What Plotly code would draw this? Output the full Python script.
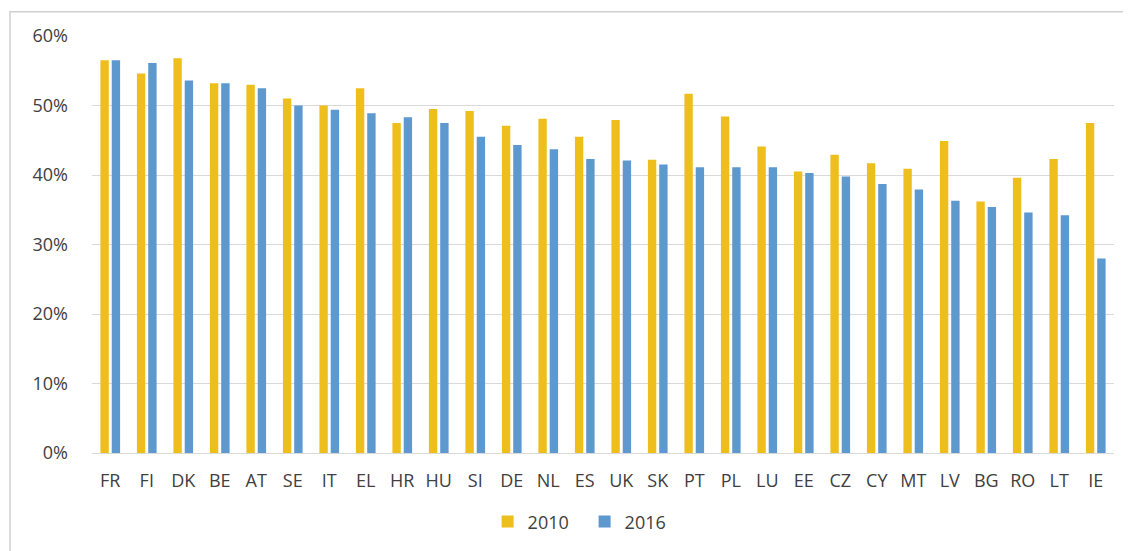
import plotly.graph_objects as go

countries = ["FR", "FI", "DK", "BE", "AT", "SE", "IT", "EL", "HR", "HU", "SI", "DE", "NL", "ES",
             "UK", "SK", "PT", "PL", "LU", "EE", "CZ", "CY", "MT", "LV", "BG", "RO", "LT", "IE"]
share_2010 = [56.5, 54.6, 56.8, 53.2, 53.0, 51.0, 50.0, 52.5, 47.5, 49.5, 49.2, 47.1, 48.1, 45.5,
              47.9, 42.2, 51.7, 48.4, 44.1, 40.5, 42.9, 41.7, 40.9, 44.9, 36.2, 39.6, 42.3, 47.5]
share_2016 = [56.5, 56.1, 53.6, 53.2, 52.5, 50.0, 49.4, 48.9, 48.3, 47.5, 45.5, 44.3, 43.7, 42.3,
              42.1, 41.5, 41.1, 41.1, 41.1, 40.3, 39.8, 38.7, 37.9, 36.3, 35.4, 34.6, 34.2, 28.0]
y_ticks = [0, 10, 20, 30, 40, 50, 60]

GOLD = "#EEBE1C"
BLUE = "#5D98CE"
TXT = "#404040"
GRID = "#D9D9D9"

fig = go.Figure()
fig.add_trace(go.Bar(x=countries, y=share_2010, name="2010", marker=dict(color=GOLD, line=dict(width=0))))
fig.add_trace(go.Bar(x=countries, y=share_2016, name="2016", marker=dict(color=BLUE, line=dict(width=0))))

# page body has an 8px margin, so the figure is laid out 8px up/left of the window
fig.update_layout(
    width=1131, height=551,
    paper_bgcolor="white", plot_bgcolor="white",
    font=dict(family="Open Sans, sans-serif", color=TXT, size=18),
    barmode="group", bargap=0.38, bargroupgap=0.26,
    margin=dict(l=84, r=25, t=28, b=106),
    xaxis=dict(showgrid=False, showline=True, linecolor=GRID, linewidth=1,
               ticks="", ticklabelstandoff=11, tickfont=dict(size=18, color=TXT)),
    yaxis=dict(range=[0, 60], tickvals=y_ticks, ticktext=[f"{v}%" for v in y_ticks],
               showgrid=True, gridcolor=GRID, gridwidth=1, zeroline=False,
               ticks="", ticklabelstandoff=23, tickfont=dict(size=18, color=TXT)),
    legend=dict(orientation="h", x=0.482, xanchor="center", y=-0.165, yanchor="middle",
                font=dict(size=18, color=TXT), itemwidth=30, entrywidth=52),
    shapes=[dict(type="rect", xref="paper", yref="paper",
                 x0=-0.0802, x1=1.08, y0=-0.35, y1=1.058,
                 line=dict(color="#D0D0D0", width=1.5), layer="below")],
)

fig.write_html("out.html")
